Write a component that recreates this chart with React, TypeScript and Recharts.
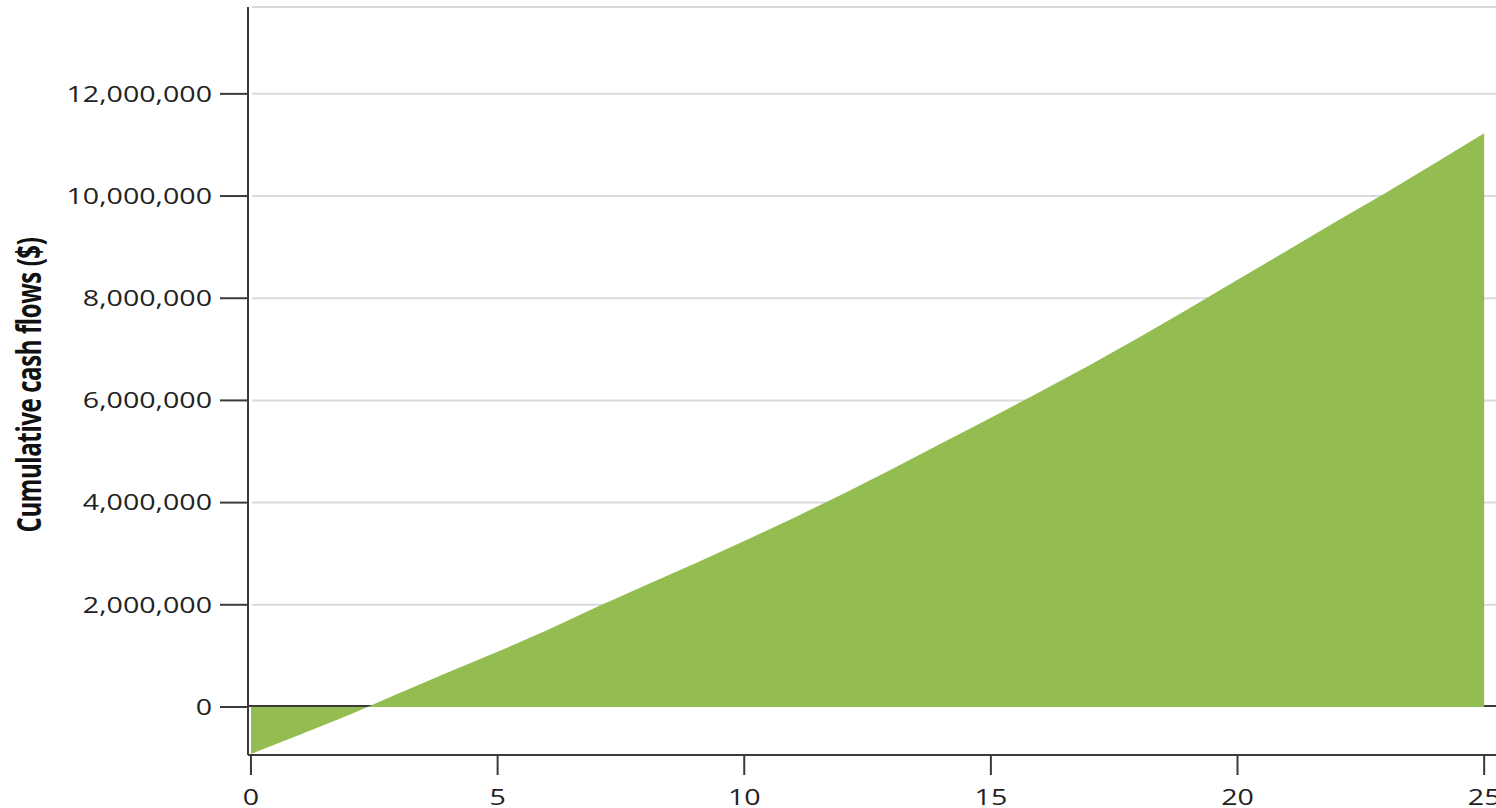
import { AreaChart, Area, XAxis, YAxis, CartesianGrid, Label } from "recharts";

// Project year (0 = start of operation)
const years = [
  0, 1, 2, 3, 4, 5, 6, 7, 8, 9, 10, 11, 12, 13, 14, 15, 16, 17, 18, 19, 20, 21,
  22, 23, 24, 25,
];

// Cumulative cash flow at each year, $
const cumulativeCashFlow = [
  -920000, -540000, -150000, 270000, 680000, 1080000, 1500000, 1950000,
  2380000, 2810000, 3250000, 3700000, 4170000, 4660000, 5160000, 5660000,
  6170000, 6690000, 7230000, 7790000, 8360000, 8930000, 9500000, 10060000,
  10640000, 11230000,
];

const yTicks = [0, 2000000, 4000000, 6000000, 8000000, 10000000, 12000000];
const xTicks = [0, 5, 10, 15, 20, 25];

const data = years.map((year, i) => ({ year, value: cumulativeCashFlow[i] }));

const FONT = "'Open Sans', 'Noto Sans', sans-serif";
const AXIS = "#3a3a3a";
const STRETCH = 1.3;

function YTick(props: any) {
  const { x, y, payload } = props;
  return (
    <g transform={`translate(${x},${y})`}>
      <text
        transform={`scale(${STRETCH},1)`}
        textAnchor="end"
        dy="0.355em"
        fontSize={22}
        fontFamily={FONT}
        fill="#222"
      >
        {Number(payload.value).toLocaleString("en-US")}
      </text>
    </g>
  );
}

function XTick(props: any) {
  const { x, y, payload } = props;
  return (
    <g transform={`translate(${x},${y})`}>
      <text
        transform={`scale(${STRETCH},1)`}
        textAnchor="middle"
        dy="0.71em"
        fontSize={22}
        fontFamily={FONT}
        fill="#222"
      >
        {payload.value}
      </text>
    </g>
  );
}

function AxisTitle(props: any) {
  const vb = props.viewBox || {};
  const cy = (vb.y ?? 0) + (vb.height ?? 0) / 2 + 4;
  return (
    <text
      transform={`translate(28,${cy}) scale(1.45,1) rotate(-90)`}
      textAnchor="middle"
      dominantBaseline="central"
      fontSize={24}
      fontWeight={700}
      letterSpacing={-0.4}
      fontFamily={FONT}
      fill="#111"
    >
      Cumulative cash flows ($)
    </text>
  );
}

// zero line is dark (sits just above 0 so the green covers it), the rest light grey
function GridLine(props: any) {
  const { x1, y1, x2, y2, index } = props;
  const isZero = index === 0;
  return (
    <line
      x1={isZero ? x1 : x1 + 4}
      y1={isZero ? y1 - 1 : y1}
      x2={x2}
      y2={isZero ? y2 - 1 : y2}
      stroke={isZero ? AXIS : "#dadada"}
      strokeWidth={2}
    />
  );
}

export default function App() {
  return (
    <div style={{ position: "absolute", left: 0, top: 0, background: "#fff" }}>
      <AreaChart
        width={1496}
        height={808}
        data={data}
        margin={{ top: 7, right: 0, bottom: 0, left: 0 }}
      >
        <CartesianGrid vertical={false} horizontal={GridLine} />
        <XAxis
          dataKey="year"
          type="number"
          domain={[-0.06, 25.24]}
          ticks={xTicks}
          height={53}
          tickSize={20}
          tickMargin={14}
          axisLine={{ stroke: AXIS, strokeWidth: 2 }}
          tickLine={{ stroke: AXIS, strokeWidth: 2 }}
          tick={<XTick />}
          allowDataOverflow
        />
        <YAxis
          type="number"
          domain={[-940000, 13700000]}
          ticks={yTicks}
          width={248}
          tickSize={28}
          tickMargin={8}
          axisLine={{ stroke: AXIS, strokeWidth: 2 }}
          tickLine={{ stroke: AXIS, strokeWidth: 2 }}
          tick={<YTick />}
          allowDataOverflow
        >
          <Label content={<AxisTitle />} />
        </YAxis>
        <Area
          type="linear"
          dataKey="value"
          stroke="none"
          fill="#93bd51"
          fillOpacity={1}
          isAnimationActive={false}
        />
      </AreaChart>
    </div>
  );
}
